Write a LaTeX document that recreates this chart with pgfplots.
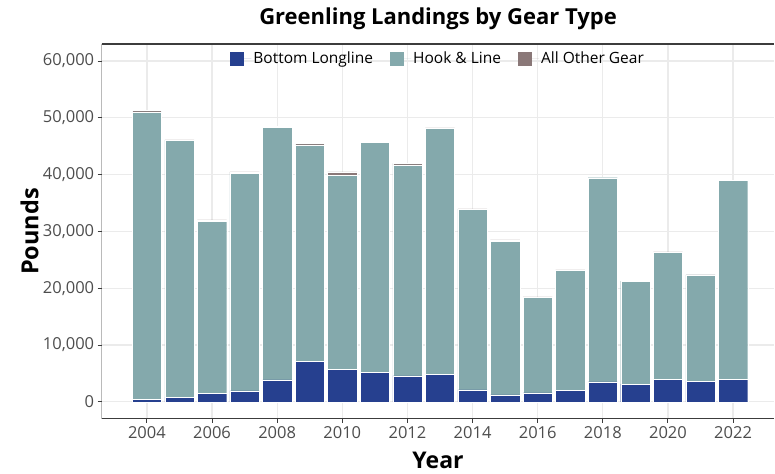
\documentclass[border=0pt]{standalone}
\usepackage{pgfplots}
\pgfplotsset{compat=1.18}
\usepackage{pgfplotstable}
\usepackage{fontspec}
\setmainfont{Open Sans}

\definecolor{blgear}{RGB}{38,64,143}
\definecolor{hlgear}{RGB}{132,169,172}
\definecolor{otgear}{RGB}{138,120,120}
\definecolor{gridc}{RGB}{235,235,235}
\definecolor{tickc}{RGB}{77,77,77}
\definecolor{axc}{RGB}{60,60,60}

% year, bottom longline, hook & line, all other gear (pounds)
\pgfplotstableread{
year  bll    hl     other
2004  400    50650  250
2005  820    45240  40
2006  1530   30270  240
2007  1930   38330  230
2008  3870   44480  120
2009  7160   38090  230
2010  5750   34100  640
2011  5220   40440  230
2012  4580   37140  240
2013  4870   43270  100
2014  2110   31820  50
2015  1230   27000  290
2016  1580   16830  80
2017  1990   21190  60
2018  3520   35930  100
2019  3110   18100  30
2020  3990   22360  60
2021  3640   18700  20
2022  3990   34950  80
}\landings

\begin{document}
\begin{tikzpicture}
\begin{axis}[
    name=ax,
    scale only axis,
    width=673pt, height=375pt,
    xmin=2002.61, xmax=2023.27,
    ymin=-3000, ymax=63000,
    ybar stacked, bar width=0.9,
    axis line style={draw=none},
    grid=major,
    major grid style={gridc, line width=1.2pt},
    xtick={2004,2006,...,2022},
    ytick={0,10000,...,60000},
    xtick pos=bottom, ytick pos=left,
    tick align=outside,
    major tick length=4pt,
    tick style={axc, line width=1pt},
    ticklabel style={font=\fontsize{16.5}{19}\selectfont, text=tickc},
    /pgf/number format/assume math mode=true,
    xticklabel style={/pgf/number format/1000 sep={}},
    yticklabel style={/pgf/number format/fixed, /pgf/number format/1000 sep={,}},
    scaled y ticks=false,
    legend columns=3,
    legend style={at={(0.5,1)}, anchor=north, yshift=-4pt, draw=none, fill=none,
        font=\fontsize{15.5}{18}\selectfont,
        /tikz/every even column/.append style={column sep=15pt}},
]
\addplot[fill=blgear, draw=white, line width=0.4pt,
    legend image code/.code={\fill[blgear] (0pt,-6.5pt) rectangle (13pt,6.5pt);
        \path[draw=none] (0pt,0pt) -- (21pt,0pt);}] table[x=year, y=bll] {\landings};
\addlegendentry{Bottom Longline}
\addplot[fill=hlgear, draw=white, line width=0.4pt,
    legend image code/.code={\fill[hlgear] (0pt,-6.5pt) rectangle (13pt,6.5pt);
        \path[draw=none] (0pt,0pt) -- (21pt,0pt);}] table[x=year, y=hl] {\landings};
\addlegendentry{Hook \& Line}
\addplot[fill=otgear, draw=white, line width=0.4pt,
    legend image code/.code={\fill[otgear] (0pt,-6.5pt) rectangle (13pt,6.5pt);
        \path[draw=none] (0pt,0pt) -- (21pt,0pt);}] table[x=year, y=other] {\landings};
\addlegendentry{All Other Gear}
\draw[axc, line width=1.2pt] (rel axis cs:0,1) -- (rel axis cs:0,0) -- (rel axis cs:1,0);
\draw[axc, line width=1.2pt] (rel axis cs:0,1) -- (rel axis cs:1,1);
\end{axis}
\node[font=\bfseries\fontsize{22}{26}\selectfont] at ([yshift=25pt]ax.north) {Greenling Landings by Gear Type};
\node[font=\bfseries\fontsize{23}{27}\selectfont] at ([yshift=-42pt]ax.south) {Year};
\node[font=\bfseries\fontsize{23.5}{28}\selectfont, rotate=90] at ([xshift=-72pt]ax.west) {Pounds};
\path ([xshift=-101.7pt,yshift=-55pt]ax.south west) rectangle ([yshift=44pt]ax.north east);
\end{tikzpicture}
\end{document}
